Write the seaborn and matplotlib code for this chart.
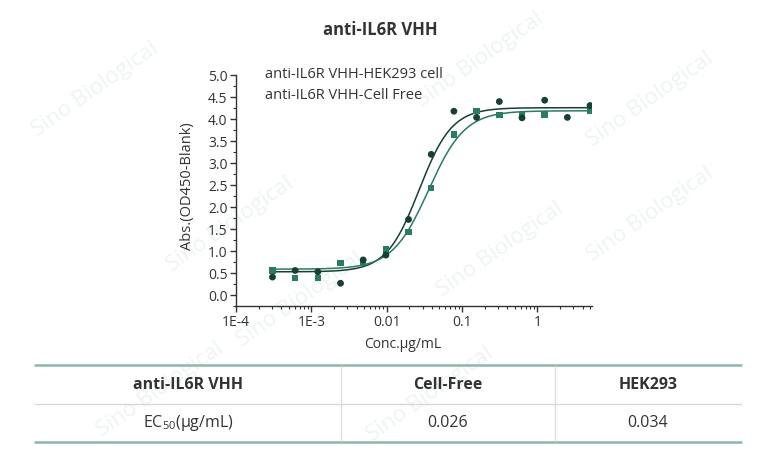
import numpy as np
import pandas as pd
import seaborn as sns
from matplotlib import pyplot as plt
from matplotlib.lines import Line2D
from matplotlib.ticker import LogLocator, MultipleLocator, FixedLocator, FixedFormatter

# data (2-fold dilution from 5 ug/mL)
conc = [0.000305, 0.00061, 0.00122, 0.00244, 0.00488, 0.00977, 0.0195,
        0.039, 0.078, 0.156, 0.3125, 0.625, 1.25, 2.5, 5.0]
hek293 = [0.40, 0.55, 0.52, 0.26, 0.79, 0.90, 1.71,
          3.19, 4.17, 4.03, 4.39, 4.02, 4.42, 4.03, 4.30]
# point at 2.5 is not visible in the chart (hidden)
cell_free = [0.55, 0.38, 0.38, 0.72, 0.72, 1.03, 1.42,
             2.42, 3.64, 4.17, 4.08, 4.08, 4.10, np.nan, 4.17]

# 4PL fit parameters (bottom, top, ec50, hill) estimated from the curves
fit_hek = (0.52, 4.25, 0.027, 2.0)
fit_cf = (0.58, 4.18, 0.036, 1.8)

series_names = ['anti-IL6R VHH-HEK293 cell', 'anti-IL6R VHH-Cell Free']
table_head = ['anti-IL6R VHH', 'Cell-Free', 'HEK293']
table_row = ['EC$_{50}$(μg/mL)', '0.026', '0.034']

dark = '#173f32'
light = '#2b7a62'
txt = '#333333'


def four_pl(x, p):
    b, t, ec, h = p
    return b + (t - b) / (1 + (ec / x) ** h)


sns.set_theme(style='white')
plt.rcParams['font.family'] = ['Open Sans', 'DejaVu Sans']
plt.rcParams['mathtext.fontset'] = 'custom'
plt.rcParams['mathtext.rm'] = 'Open Sans'

pts = pd.DataFrame({'conc': conc * 2,
                    'od': hek293 + cell_free,
                    'grp': [series_names[0]] * len(conc) + [series_names[1]] * len(conc)})
xs = np.logspace(np.log10(conc[0]), np.log10(conc[-1]), 300)
curves = pd.DataFrame({'conc': np.concatenate([xs, xs]),
                       'od': np.concatenate([four_pl(xs, fit_hek), four_pl(xs, fit_cf)]),
                       'grp': [series_names[0]] * len(xs) + [series_names[1]] * len(xs)})

fig = plt.figure(figsize=(7.6, 4.6), dpi=100)

# faint watermarks behind everything
for wx, wy in [(95, 90), (230, 225), (480, 60), (650, 100), (300, 300),
               (500, 250), (650, 215), (430, 395), (160, 390)]:
    fig.text(wx / 760, 1 - wy / 460, 'Sino Biological', rotation=35, ha='center',
             va='center', fontsize=16, color='#edf5f2', zorder=-1)

ax = fig.add_axes([0.3105, 0.3333, 0.4684, 0.5021])
ax.patch.set_alpha(0)

pal = {series_names[0]: dark, series_names[1]: light}
sns.lineplot(data=curves, x='conc', y='od', hue='grp', palette=pal,
             linewidth=1.1, legend=False, ax=ax)
cf = pts[pts.grp == series_names[1]].dropna()
hk = pts[pts.grp == series_names[0]]
sns.scatterplot(data=cf, x='conc', y='od', color=light, marker='s', s=22,
                edgecolor='none', ax=ax, zorder=3)
sns.scatterplot(data=hk, x='conc', y='od', color=dark, marker='o', s=24,
                edgecolor='none', ax=ax, zorder=4)

ax.set_xscale('log')
ax.set_xlim(1e-4, 5.3)
ax.set_ylim(-0.25, 5.0)
for s in ['top', 'right']:
    ax.spines[s].set_visible(False)
for s in ['left', 'bottom']:
    ax.spines[s].set_color(txt)
    ax.spines[s].set_linewidth(1.0)

ax.xaxis.set_major_locator(FixedLocator([1e-4, 1e-3, 1e-2, 1e-1, 1]))
ax.xaxis.set_major_formatter(FixedFormatter(['1E-4', '1E-3', '0.01', '0.1', '1']))
ax.xaxis.set_minor_locator(LogLocator(base=10, subs=np.arange(2, 10)))
ax.yaxis.set_major_locator(MultipleLocator(0.5))
ax.yaxis.set_minor_locator(MultipleLocator(0.25))
ax.yaxis.set_major_formatter(plt.FuncFormatter(lambda v, _: f'{v:.1f}'))
ax.tick_params(which='major', direction='out', length=4, width=1, color=txt,
               labelsize=10, labelcolor=txt, bottom=True, left=True, pad=2)
ax.tick_params(which='minor', direction='out', length=2, width=0.8, color=txt,
               bottom=True, left=True)

ax.set_xlabel('Conc.μg/mL', fontsize=10, color=txt)
ax.xaxis.set_label_coords(0.469, -0.13)
ax.set_ylabel('Abs.(OD450-Blank)', fontsize=10.5, color=txt)
ax.yaxis.set_label_coords(-0.115, 0.52)

handles = [Line2D([], [], color='none') for _ in series_names]
leg = ax.legend(handles, series_names, loc='upper left', bbox_to_anchor=(0.045, 1.095),
                frameon=False, handlelength=0, handletextpad=0, fontsize=10.5,
                labelspacing=0.42)
for t in leg.get_texts():
    t.set_color(txt)

fig.text(0.5, 0.935, 'anti-IL6R VHH', ha='center', va='center',
         fontsize=12, fontweight='bold', color=txt)


# table
def fx(px):
    return px / 760


def fy(py):
    return 1 - py / 460


tcol = '#8db7aa'
fig.add_artist(Line2D([fx(35), fx(741)], [fy(366), fy(366)], color=tcol, lw=1.8))
fig.add_artist(Line2D([fx(35), fx(741)], [fy(443), fy(443)], color=tcol, lw=1.8))
fig.add_artist(Line2D([fx(35), fx(741)], [fy(405), fy(405)], color='#d8d8d8', lw=1.0))
for vx in [341, 555]:
    fig.add_artist(Line2D([fx(vx), fx(vx)], [fy(367), fy(442)], color='#dddddd', lw=1.0))

col_x = [188, 448, 648]
for cx, s in zip(col_x, table_head):
    fig.text(fx(cx), fy(385), s, ha='center', va='center', fontsize=11.5,
             fontweight='bold', color=txt)
for cx, s in zip(col_x, table_row):
    fig.text(fx(cx), fy(423), s, ha='center', va='center', fontsize=11.5,
             color=txt)

fig.savefig('out.png', dpi=100)
